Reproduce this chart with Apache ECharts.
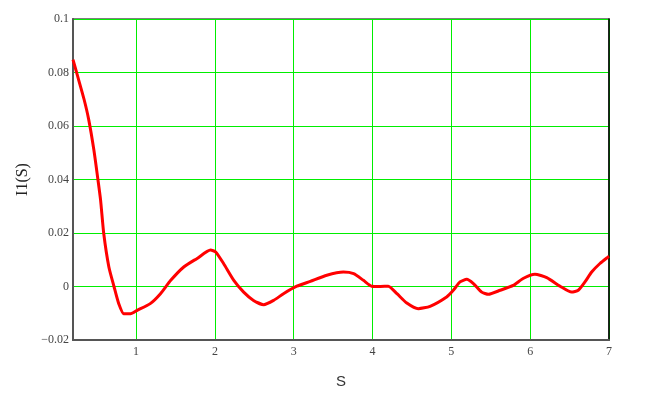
<!DOCTYPE html>
<html><head><meta charset="utf-8">
<script src="https://cdn.jsdelivr.net/npm/echarts@6/dist/echarts.min.js"></script>
<style>html,body{margin:0;padding:0;background:#fff}#c{width:657px;height:410px}</style>
</head><body><div id="c"></div>
<script>
const xs = [0.2,0.255,0.34,0.40,0.465,0.516,0.55,0.59,0.655,0.72,0.78,0.845,0.93,1.015,1.18,1.31,1.44,1.605,1.775,1.945,2.01,2.11,2.24,2.365,2.49,2.62,2.745,2.87,3.04,3.21,3.42,3.63,3.76,3.885,3.99,4.10,4.20,4.31,4.435,4.58,4.73,4.94,5.025,5.11,5.195,5.28,5.385,5.47,5.62,5.785,5.91,6.06,6.21,6.38,6.525,6.61,6.695,6.78,6.885,6.99,7.0];
const ys = [0.0848,0.079,0.070,0.0623,0.051,0.040,0.0323,0.0198,0.0073,0.0,-0.0064,-0.0102,-0.0102,-0.0089,-0.0064,-0.0027,0.0023,0.0073,0.0105,0.0136,0.0129,0.0086,0.0023,-0.0021,-0.0052,-0.0068,-0.0052,-0.0027,0.0001,0.0019,0.0042,0.0054,0.0048,0.0023,0.0001,0.0,0.0001,-0.0027,-0.0062,-0.0083,-0.0074,-0.0039,-0.0014,0.0017,0.0027,0.0011,-0.0021,-0.0029,-0.0014,0.0004,0.003,0.0046,0.0033,0.0001,-0.0021,-0.0014,0.0017,0.0054,0.0086,0.0111,0.0113];
const xTicks = [1,2,3,4,5,6,7];
const xName = 'S';
const yName = 'I1(S)';

const font = 'Liberation Serif';
const chart = echarts.init(document.getElementById('c'));
chart.setOption({
  animation: false,
  grid: {left: 73, right: 48, top: 19, bottom: 70, show: true, borderColor: '#555', borderWidth: 1.5, backgroundColor: 'transparent'},
  xAxis: [{
    type: 'value', min: 0.2, max: 7,
    name: xName, nameLocation: 'middle', nameGap: 34,
    nameTextStyle: {fontFamily: 'Liberation Sans', fontSize: 15, color: '#333'},
    axisLine: {show: true, onZero: false, lineStyle: {color: '#555', width: 2}},
    axisTick: {show: false, customValues: xTicks},
    axisLabel: {customValues: xTicks, fontFamily: font, fontSize: 12, color: '#444', margin: 6},
    splitLine: {show: true, lineStyle: {color: '#00ee00', width: 1}}
  }],
  yAxis: [{
    type: 'value', min: -0.02, max: 0.1, interval: 0.02,
    name: yName, nameLocation: 'middle', nameGap: 42,
    nameTextStyle: {fontFamily: font, fontSize: 16, color: '#222'},
    axisLine: {show: true, onZero: false, lineStyle: {color: '#555', width: 2}},
    axisTick: {show: false},
    axisLabel: {fontFamily: font, fontSize: 12, color: '#444', margin: 4,
      formatter: v => String(v).replace('-', '\u2212')},
    splitLine: {show: true, lineStyle: {color: '#00ee00', width: 1}}
  }, {
    type: 'value', min: -0.02, max: 0.1, interval: 0.02, position: 'right',
    axisLine: {show: true, onZero: false, lineStyle: {color: '#000', width: 1.5}},
    axisTick: {show: false}, axisLabel: {show: false}, splitLine: {show: false}
  }],
  series: [{
    type: 'line', xAxisIndex: 0, yAxisIndex: 0,
    data: xs.map((x, i) => [x, ys[i]]),
    smooth: 0.2, showSymbol: false, clip: true,
    lineStyle: {color: '#ff0000', width: 3}
  }]
});
</script></body></html>
